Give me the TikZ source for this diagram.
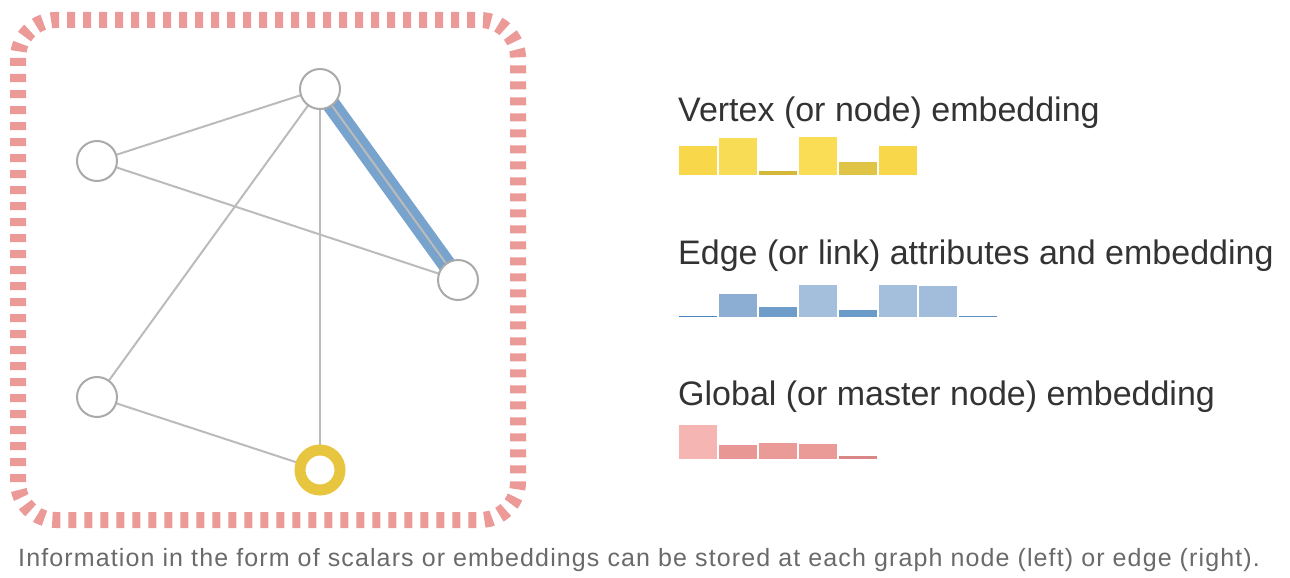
\documentclass[tikz,border=0pt]{standalone}
\usepackage{fontspec}
\setmainfont{Liberation Sans}
\newfontfamily\capfont[LetterSpace=4.5]{Liberation Sans}
\usetikzlibrary{backgrounds}
\definecolor{edgegray}{HTML}{BBBBBB}
\definecolor{nodegray}{HTML}{AAAAAA}
\definecolor{bordpink}{HTML}{EC9A98}
\definecolor{blueedge}{HTML}{77A3CC}
\definecolor{yelnode}{HTML}{E8C53E}
\definecolor{headtxt}{HTML}{333333}
\definecolor{captxt}{HTML}{6A6A6A}
% bar colours
\definecolor{vA}{HTML}{F8D84A}\definecolor{vB}{HTML}{F9DC55}\definecolor{vC}{HTML}{D4B83A}
\definecolor{vD}{HTML}{FADD55}\definecolor{vE}{HTML}{E0C445}\definecolor{vF}{HTML}{F8D84A}
\definecolor{eA}{HTML}{4A86C0}\definecolor{eB}{HTML}{8DAED3}\definecolor{eC}{HTML}{6E9DCA}
\definecolor{eD}{HTML}{A3BFDC}\definecolor{eE}{HTML}{6A9BC9}\definecolor{eF}{HTML}{A3BFDC}
\definecolor{eG}{HTML}{A1BDDB}\definecolor{eH}{HTML}{5A8EC5}
\definecolor{gA}{HTML}{F4B5B3}\definecolor{gB}{HTML}{E89794}\definecolor{gC}{HTML}{EA9A97}
\definecolor{gD}{HTML}{EA9A97}\definecolor{gE}{HTML}{D98886}
\tikzset{
  gnode/.style={circle, draw=nodegray, line width=2pt, fill=white, minimum size=40pt, inner sep=0pt},
  ynode/.style={circle, draw=yelnode, line width=11pt, fill=white, minimum size=40pt, inner sep=0pt},
  gedge/.style={draw=edgegray, line width=2pt},
  bedge/.style={draw=blueedge, line width=18pt},
  border/.style={draw=bordpink, line width=16pt, dash pattern=on 8pt off 8pt, rounded corners=38pt},
  headlabel/.style={anchor=base west, inner sep=0pt, text=headtxt, font=\fontsize{34}{40}\selectfont},
  caplabel/.style={anchor=base west, inner sep=0pt, text=captxt, font=\capfont\fontsize{25}{30}\selectfont},
}
\newcommand{\barbox}[4]{% x, top, bottom, colour
  \fill[#4] (#1,#3) rectangle ({#1+38},#2);}
\begin{document}
\begin{tikzpicture}[x=1pt,y=-1pt]
\useasboundingbox (0,0) rectangle (1290,578);
% border
\draw[border] (18,20) rectangle (518,520);
% nodes
\node[gnode] (a) at (320,89) {};
\node[gnode] (b) at (97,161) {};
\node[gnode] (c) at (458,280) {};
\node[gnode] (d) at (97,397) {};
\node[ynode] (e) at (320,470) {};
% edges
\begin{scope}[on background layer]
  \draw[bedge] (a.center) -- (c.center);
  \draw[gedge] (a.center) -- (c.center);
  \draw[gedge] (a.center) -- (b.center);
  \draw[gedge] (a.center) -- (d.center);
  \draw[gedge] (a.center) -- (e.center);
  \draw[gedge] (b.center) -- (c.center);
  \draw[gedge] (d.center) -- (e.center);
\end{scope}
% labels
\node[headlabel] (tv) at (678,121) {Vertex (or node) embedding};
\node[headlabel] (te) at (678,264) {Edge (or link) attributes and embedding};
\node[headlabel] (tg) at (678,405) {Global (or master node) embedding};
% vertex bars
\barbox{679}{146}{175}{vA}
\barbox{719}{138}{175}{vB}
\barbox{759}{171}{175}{vC}
\barbox{799}{137}{175}{vD}
\barbox{839}{162}{175}{vE}
\barbox{879}{146}{175}{vF}
% edge bars
\barbox{679}{315.5}{317}{eA}
\barbox{719}{294}{317}{eB}
\barbox{759}{306.5}{317}{eC}
\barbox{799}{284.5}{317}{eD}
\barbox{839}{309.5}{317}{eE}
\barbox{879}{284.5}{317}{eF}
\barbox{919}{285.5}{317}{eG}
\barbox{959}{315.5}{317}{eH}
% global bars
\barbox{679}{425}{459}{gA}
\barbox{719}{445}{459}{gB}
\barbox{759}{443}{459}{gC}
\barbox{799}{444}{459}{gD}
\barbox{839}{455.5}{459}{gE}
% caption
\node[caplabel] (cap) at (18,566) {Information in the form of scalars or embeddings can be stored at each graph node (left) or edge (right).};
\end{tikzpicture}
\end{document}
